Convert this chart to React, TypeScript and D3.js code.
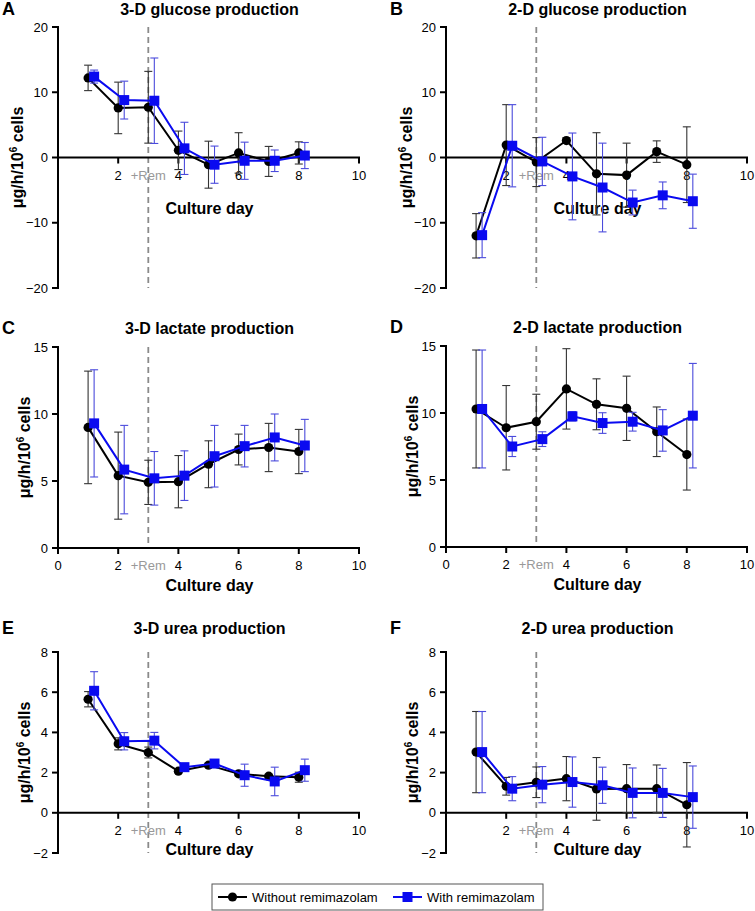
import React from "react";
import * as d3 from "d3";

// culture days; the "with" series is drawn a bit to the right
const days = [1, 2, 3, 4, 5, 6, 7, 8];
const shift = 0.2;
const remDay = 3;

// 3-D glucose
const glucose3dWithout = [12.2, 7.6, 7.7, 1.1, -1.1, 0.7, -0.6, 0.7];
const glucose3dWithoutErr = [1.95, 3.95, 5.5, 2.95, 3.6, 3.1, 2.3, 1.7];
const glucose3dWith = [12.4, 8.8, 8.7, 1.4, -1.1, -0.5, -0.5, 0.3];
const glucose3dWithErr = [1.0, 2.9, 6.55, 4.0, 2.85, 2.85, 1.65, 2.0];

// 2-D glucose
const glucose2dWithout = [-12.0, 1.9, -0.7, 2.6, -2.5, -2.7, 0.9, -1.1];
const glucose2dWithoutErr = [3.4, 6.2, 3.75, 0.4, 6.3, 4.9, 1.65, 5.8];
const glucose2dWith = [-11.9, 1.8, -0.6, -2.9, -4.6, -6.9, -5.8, -6.7];
const glucose2dWithErr = [3.45, 6.3, 3.7, 6.65, 6.8, 1.9, 2.05, 4.15];

// 3-D lactate
const lactate3dWithout = [9.0, 5.4, 4.9, 4.95, 6.25, 7.35, 7.5, 7.2];
const lactate3dWithoutErr = [4.2, 3.25, 1.65, 1.95, 1.75, 1.15, 1.8, 1.65];
const lactate3dWith = [9.3, 5.85, 5.2, 5.4, 6.85, 7.6, 8.25, 7.65];
const lactate3dWithErr = [4.0, 3.3, 2.0, 1.85, 2.3, 1.55, 1.75, 1.95];

// 2-D lactate
const lactate2dWithout = [10.3, 8.9, 9.35, 11.8, 10.65, 10.35, 8.6, 6.9];
const lactate2dWithoutErr = [4.4, 3.15, 2.05, 3.0, 1.9, 2.4, 1.85, 2.65];
const lactate2dWith = [10.3, 7.5, 8.05, 9.75, 9.25, 9.35, 8.7, 9.8];
const lactate2dWithErr = [4.4, 0.75, 0.55, 0.35, 0.77, 0.7, 1.55, 3.9];

// 3-D urea
const urea3dWithout = [5.65, 3.43, 3.0, 2.07, 2.37, 1.94, 1.82, 1.77];
const urea3dWithoutErr = [0.38, 0.3, 0.27, 0.08, 0.1, 0.1, 0.1, 0.25];
const urea3dWith = [6.07, 3.56, 3.59, 2.27, 2.45, 1.87, 1.56, 2.12];
const urea3dWithErr = [0.95, 0.43, 0.41, 0.1, 0.1, 0.55, 0.71, 0.55];

// 2-D urea
const urea2dWithout = [3.02, 1.32, 1.52, 1.7, 1.19, 1.2, 1.2, 0.4];
const urea2dWithoutErr = [2.02, 0.44, 0.76, 1.1, 1.56, 1.2, 1.18, 2.1];
const urea2dWith = [3.02, 1.2, 1.4, 1.53, 1.37, 0.99, 0.99, 0.78];
const urea2dWithErr = [2.02, 0.6, 0.9, 1.25, 0.9, 1.24, 1.22, 1.55];

const glucoseTicks = [-20, -10, 0, 10, 20];
const lactateTicks = [0, 5, 10, 15];
const ureaTicks = [-2, 0, 2, 4, 6, 8];
const xTicksZero = [0, 2, 4, 6, 8, 10];
const xTicksNoZero = [2, 4, 6, 8, 10];

const legendLabels = ["Without remimazolam", "With remimazolam"];

const font = "Arial, 'Liberation Sans', sans-serif";
const blue = "#0a0af0";
const blueErr = "#4b4bdc";
const blackErr = "#333";

const panels = [
  { letter: "A", title: "3-D glucose production", left: 58, top: 27, bottom: 288, yDomain: [-20, 20], yTicks: glucoseTicks, xTicks: xTicksNoZero, without: glucose3dWithout, withoutErr: glucose3dWithoutErr, withR: glucose3dWith, withErr: glucose3dWithErr, labelOff: 35, xLabelOff: 56, titleOff: 12 },
  { letter: "B", title: "2-D glucose production", left: 446, top: 27, bottom: 288, yDomain: [-20, 20], yTicks: glucoseTicks, xTicks: xTicksNoZero, without: glucose2dWithout, withoutErr: glucose2dWithoutErr, withR: glucose2dWith, withErr: glucose2dWithErr, labelOff: 34, xLabelOff: 56, titleOff: 12 },
  { letter: "C", title: "3-D lactate production", left: 58, top: 347, bottom: 548, yDomain: [0, 15], yTicks: lactateTicks, xTicks: xTicksZero, without: lactate3dWithout, withoutErr: lactate3dWithoutErr, withR: lactate3dWith, withErr: lactate3dWithErr, labelOff: 28, xLabelOff: 43, titleOff: 13 },
  { letter: "D", title: "2-D lactate production", left: 446, top: 346, bottom: 547, yDomain: [0, 15], yTicks: lactateTicks, xTicks: xTicksZero, without: lactate2dWithout, withoutErr: lactate2dWithoutErr, withR: lactate2dWith, withErr: lactate2dWithErr, labelOff: 28, xLabelOff: 43, titleOff: 13 },
  { letter: "E", title: "3-D urea production", left: 58, top: 652, bottom: 853, yDomain: [-2, 8], yTicks: ureaTicks, xTicks: xTicksNoZero, without: urea3dWithout, withoutErr: urea3dWithoutErr, withR: urea3dWith, withErr: urea3dWithErr, labelOff: 28, xLabelOff: 42, titleOff: 18 },
  { letter: "F", title: "2-D urea production", left: 446, top: 652, bottom: 853, yDomain: [-2, 8], yTicks: ureaTicks, xTicks: xTicksNoZero, without: urea2dWithout, withoutErr: urea2dWithoutErr, withR: urea2dWith, withErr: urea2dWithErr, labelOff: 28, xLabelOff: 42, titleOff: 18 },
];

function ErrorBars({ xs, ys, errs, x, y, color }: any) {
  return (
    <g stroke={color} strokeWidth={1.1}>
      {xs.map((d: number, i: number) => {
        const cx = x(d);
        const y1 = y(ys[i] + errs[i]);
        const y2 = y(ys[i] - errs[i]);
        return (
          <g key={i}>
            <line x1={cx} x2={cx} y1={y1} y2={y2} />
            <line x1={cx - 4} x2={cx + 4} y1={y1} y2={y1} />
            <line x1={cx - 4} x2={cx + 4} y1={y2} y2={y2} />
          </g>
        );
      })}
    </g>
  );
}

function Panel({ p }: any) {
  const x = d3.scaleLinear().domain([0, 10]).range([p.left, p.left + 301]);
  const y = d3.scaleLinear().domain(p.yDomain).range([p.bottom, p.top]);
  const zeroY = y(Math.max(0, p.yDomain[0]));
  const cx = (p.left + p.left + 301) / 2;
  const line = d3
    .line<[number, number]>()
    .x((d) => x(d[0]))
    .y((d) => y(d[1]));
  const xsWith = days.map((d) => d + shift);
  const withoutPts = days.map((d, i) => [d, p.without[i]] as [number, number]);
  const withPts = xsWith.map((d, i) => [d, p.withR[i]] as [number, number]);

  return (
    <g fontFamily={font}>
      <text x={p.left - 56} y={p.top - p.titleOff} fontSize={18} fontWeight="bold">
        {p.letter}
      </text>
      <text x={cx + 1} y={p.top - p.titleOff} fontSize={16} fontWeight="bold" textAnchor="middle">
        {p.title}
      </text>

      {/* +Rem marker */}
      <line x1={x(remDay)} x2={x(remDay)} y1={p.top} y2={p.bottom} stroke="#8a8a8a" strokeWidth={1.8} strokeDasharray="6,4" />
      <text x={x(remDay)} y={zeroY + 22} fontSize={13} fill="#999" textAnchor="middle">
        +Rem
      </text>

      {/* y axis */}
      <line x1={p.left} x2={p.left} y1={p.top - 1} y2={p.bottom + 1} stroke="#000" strokeWidth={2} />
      {p.yTicks.map((t: number) => (
        <g key={t}>
          <line x1={p.left - 6} x2={p.left} y1={y(t)} y2={y(t)} stroke="#000" strokeWidth={2} />
          <text x={p.left - 10} y={y(t)} dy="0.35em" fontSize={13} textAnchor="end">
            {t < 0 ? "\u2212" + Math.abs(t) : t}
          </text>
        </g>
      ))}

      {/* x axis */}
      <line x1={p.left} x2={x(10) + 1} y1={zeroY} y2={zeroY} stroke="#000" strokeWidth={2} />
      {p.xTicks.map((t: number) => (
        <g key={t}>
          <line x1={x(t)} x2={x(t)} y1={zeroY} y2={zeroY + 6} stroke="#000" strokeWidth={2} />
          <text x={x(t)} y={zeroY + 22} fontSize={13} textAnchor="middle">
            {t}
          </text>
        </g>
      ))}
      <text x={cx + 1} y={zeroY + p.xLabelOff} fontSize={16} fontWeight="bold" textAnchor="middle">
        Culture day
      </text>
      <text
        transform={`translate(${p.left - p.labelOff},${(p.top + p.bottom) / 2}) rotate(-90)`}
        fontSize={16}
        fontWeight="bold"
        textAnchor="middle"
      >
        μg/h/10<tspan dy={-6} fontSize={10}>6</tspan>
        <tspan dy={6}> cells</tspan>
      </text>

      {/* without remimazolam */}
      <ErrorBars xs={days} ys={p.without} errs={p.withoutErr} x={x} y={y} color={blackErr} />
      <path d={line(withoutPts) || ""} fill="none" stroke="#000" strokeWidth={2} />
      {withoutPts.map((d, i) => (
        <circle key={i} cx={x(d[0])} cy={y(d[1])} r={4.6} fill="#000" />
      ))}

      {/* with remimazolam */}
      <ErrorBars xs={xsWith} ys={p.withR} errs={p.withErr} x={x} y={y} color={blueErr} />
      <path d={line(withPts) || ""} fill="none" stroke={blue} strokeWidth={2} />
      {withPts.map((d, i) => (
        <rect key={i} x={x(d[0]) - 5} y={y(d[1]) - 5} width={10} height={10} fill={blue} />
      ))}
    </g>
  );
}

function Legend() {
  return (
    <g fontFamily={font} fontSize={13}>
      <rect x={212} y={884} width={331} height={26} fill="#fff" stroke="#555" strokeWidth={1} />
      <line x1={218} x2={247} y1={897} y2={897} stroke="#000" strokeWidth={2} />
      <circle cx={232.5} cy={897} r={4.6} fill="#000" />
      <text x={252} y={901.5}>{legendLabels[0]}</text>
      <line x1={393} x2={422} y1={897} y2={897} stroke={blue} strokeWidth={2} />
      <rect x={402.5} y={892} width={10} height={10} fill={blue} />
      <text x={427} y={901.5}>{legendLabels[1]}</text>
    </g>
  );
}

export default function App() {
  return (
    <svg
      width={755}
      height={911}
      style={{ position: "absolute", left: 0, top: 0, background: "#fff" }}
    >
      {panels.map((p) => (
        <Panel key={p.letter} p={p} />
      ))}
      <Legend />
    </svg>
  );
}
